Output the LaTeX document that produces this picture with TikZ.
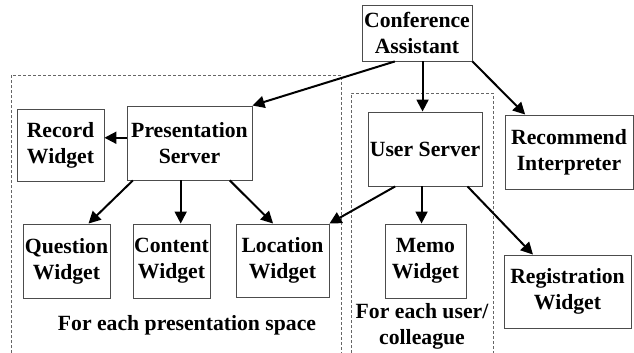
\documentclass[tikz,border=0pt]{standalone}
\usepackage{fontspec}
\setmainfont{Liberation Serif}
\usetikzlibrary{arrows.meta,calc}
\tikzset{
  box/.style={draw=black!70, line width=0.9pt, inner sep=0pt, align=center, font=\bfseries\fontsize{21.7}{26}\selectfont},
  arr/.style={draw=black, line width=2pt, -{Triangle[length=12pt,width=12pt]}},
  region/.style={draw=black!60, line width=0.7pt, dash pattern=on 3pt off 2pt},
  lbl/.style={inner sep=0pt, align=center, font=\bfseries\fontsize{21.7}{26}\selectfont}
}
\begin{document}
\begin{tikzpicture}[x=1pt,y=-1pt]
\useasboundingbox (0,0) rectangle (634,353);
\fill[white] (0,0) rectangle (634,353);
% regions
\draw[region] (11,353) -- (11,75) -- (341,75) -- (341,353);
\draw[region] (351,353) -- (351,93) -- (493,93) -- (493,353);
% nodes
\node[box, minimum width=110pt, minimum height=56pt] (CA) at (417,33) {Conference\\Assistant};
\node[box, minimum width=125pt, minimum height=74pt] (PS) at (189.5,143) {Presentation\\Server};
\node[box, minimum width=87pt, minimum height=72pt] (RW) at (60.5,145) {Record\\Widget};
\node[box, minimum width=114pt, minimum height=74pt] (US) at (425,149) {User Server};
\node[box, minimum width=128pt, minimum height=74pt] (RI) at (569,152) {Recommend\\Interpreter};
\node[box, minimum width=87pt, minimum height=74pt] (QW) at (66.5,261) {Question\\Widget};
\node[box, minimum width=77pt, minimum height=74pt] (CW) at (171.5,261) {Content\\Widget};
\node[box, minimum width=93pt, minimum height=73pt] (LW) at (282.5,260.5) {Location\\Widget};
\node[box, minimum width=81pt, minimum height=74pt] (MW) at (425.5,261) {Memo\\Widget};
\node[box, minimum width=127pt, minimum height=73pt] (RG) at (567.5,291.5) {Registration\\Widget};
\node[lbl] (L1) at (187,325) {For each presentation space};
\node[lbl] (L2) at (422,326) {For each user/\\colleague};
% connectors
\coordinate (ca1) at ($(CA.south west)!0.3!(CA.south east)$);
\coordinate (ca2) at ($(CA.south west)!0.55!(CA.south east)$);
\draw[arr] (ca1) -- (PS.north east);
\draw[arr] (ca2) -- (ca2 |- US.north);
\draw[arr] (CA.south east) -- ($(RI.north west)!0.16!(RI.north east)$);
\coordinate (ps0) at ($(PS.north west)!0.43!(PS.south west)$);
\draw[arr] (ps0) -- (ps0 -| RW.east);
\draw[arr] ($(PS.south west)!0.05!(PS.south east)$) -- ($(QW.north west)!0.75!(QW.north east)$);
\coordinate (ps2) at ($(PS.south west)!0.43!(PS.south east)$);
\draw[arr] (ps2) -- (ps2 |- CW.north);
\draw[arr] ($(PS.south west)!0.82!(PS.south east)$) -- ($(LW.north west)!0.4!(LW.north east)$);
\draw[arr] ($(US.south west)!0.24!(US.south east)$) -- (LW.north east);
\coordinate (us2) at ($(US.south west)!0.47!(US.south east)$);
\draw[arr] (us2) -- (us2 |- MW.north);
\draw[arr] ($(US.south west)!0.87!(US.south east)$) -- ($(RG.north west)!0.23!(RG.north east)$);
\end{tikzpicture}
\end{document}
